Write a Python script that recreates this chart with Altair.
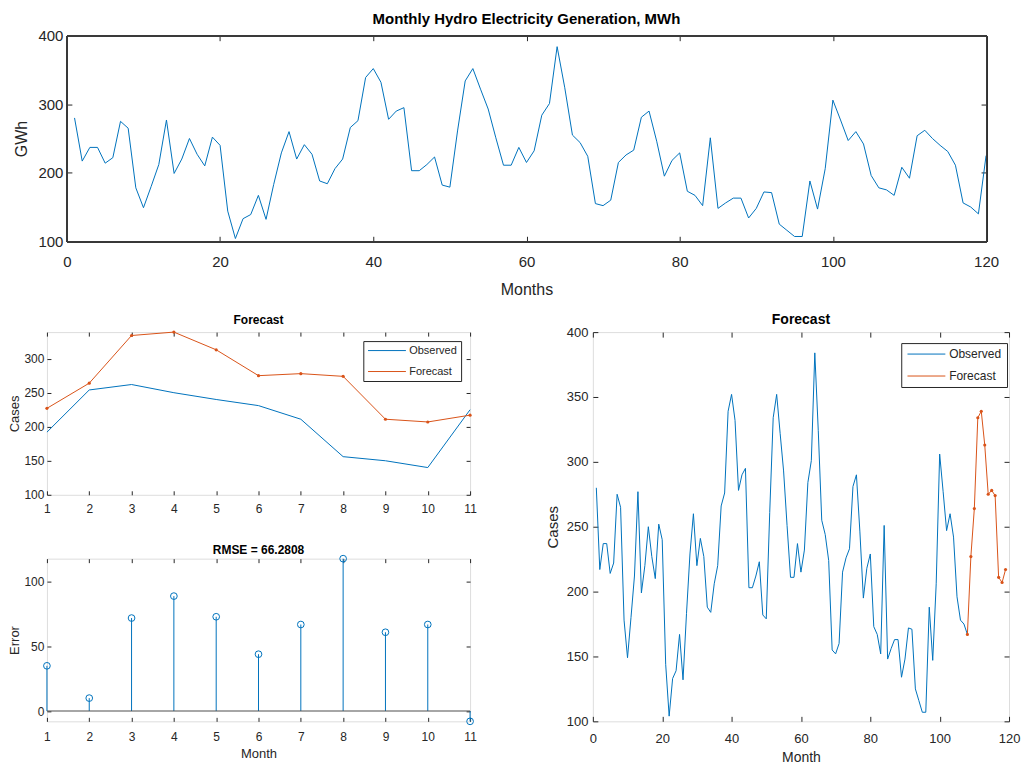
import altair as alt
import pandas as pd

# ---------------- data ----------------
hydro = [280, 217, 237, 237, 214, 222, 275, 265, 178, 149,
         180, 212, 277, 199, 220, 250, 227, 210, 252, 240,
         144, 104, 133, 139, 167, 132, 183, 229, 260, 220,
         241, 227, 188, 184, 206, 220, 266, 276, 339, 352,
         332, 278, 290, 295, 203, 203, 212, 223, 182, 179,
         261, 334, 352, 322, 293, 251, 211, 211, 237, 215,
         232, 284, 301, 384, 324, 255, 244, 224, 155, 152,
         160, 215, 226, 233, 281, 290, 246, 195, 218, 229,
         173, 167, 152, 251, 148, 156, 163, 163, 134, 148,
         172, 171, 125, 116, 107, 107, 188, 147, 206, 306,
         277, 247, 260, 242, 196, 178, 175, 167, 208, 192,
         254, 262, 250, 240, 231, 211, 156, 150, 140, 225]
months = list(range(1, 121))

test_months = list(range(1, 12))
test_observed = hydro[109:120]
forecast = [227, 264, 334, 339, 313, 275, 278, 274, 211, 207, 217]
errors = [f - o for f, o in zip(forecast, test_observed)]

train_months = list(range(1, 109))
train_observed = hydro[:108]
fc_months = list(range(108, 120))
fc_values = [hydro[107]] + forecast

series_names = ["Observed", "Forecast"]

FONT = "Liberation Sans"
INK = "#262626"
BLUE = "#0072BD"
ORANGE = "#D95319"
COLOR_SCALE = alt.Scale(domain=series_names, range=[BLUE, ORANGE])
LEG_PATH = "M-1,0H7"


def ax(orient, values, title=None, lfs=12, tfs=13, tick=5, labels=True,
       lpad=3, tpad=4, shift=0):
    return alt.Axis(orient=orient, values=values, domain=False, grid=False,
                    ticks=True, tickSize=tick, offset=-(tick + shift),
                    tickColor=INK, tickWidth=1, labels=labels, labelFont=FONT,
                    labelFontSize=lfs, labelColor=INK, labelPadding=lpad,
                    labelFlush=False, labelOverlap=False, minExtent=0,
                    titleFont=FONT, titleFontSize=tfs, titleColor=INK,
                    titleFontWeight="normal", titlePadding=tpad, title=title)


def mirror(df, xf, yf, xs, ys, xv, yv, tick=5):
    return alt.Chart(df).mark_point(opacity=0).encode(
        x=alt.X(xf, type="quantitative", scale=xs,
                axis=ax("top", xv, labels=False, tick=tick, lpad=0)),
        y=alt.Y(yf, type="quantitative", scale=ys,
                axis=ax("right", yv, labels=False, tick=tick, lpad=0)),
    )


def legend(lx, ly, fs, pad, rowpad):
    return alt.Legend(orient="none", legendX=lx, legendY=ly, title=None,
                      fillColor="white", strokeColor=INK, padding=pad,
                      cornerRadius=0, labelFont=FONT, labelFontSize=fs,
                      labelColor=INK, symbolType=LEG_PATH, symbolSize=90,
                      symbolStrokeWidth=1, labelOffset=31, rowPadding=rowpad)


# ---------------- top panel ----------------
TOP_SHIFT = 20          # plot area of the top panel starts 20px right of the lower-left one
TOP_W = 941
top_df = pd.DataFrame({"Month": months, "GWh": hydro})
xs_top = alt.Scale(domain=[0, 120], nice=False, zero=False,
                   range=[TOP_SHIFT, TOP_W])
ys_top = alt.Scale(domain=[100, 400], nice=False, zero=False)
xv_top = [0, 20, 40, 60, 80, 100, 120]
yv_top = [100, 200, 300, 400]

top_line = alt.Chart(top_df).mark_line(color=BLUE, strokeWidth=1).encode(
    x=alt.X("Month:Q", scale=xs_top,
            axis=ax("bottom", xv_top, "Months", 15, 16, lpad=13, tpad=12)),
    y=alt.Y("GWh:Q", scale=ys_top,
            axis=ax("left", yv_top, "GWh", 15, 16, lpad=4, tpad=8,
                    shift=TOP_SHIFT)),
)
top_box = alt.Chart(top_df).mark_rect(fillOpacity=0, stroke="#3a3a3a",
                                      strokeWidth=1, xOffset=0.5,
                                      x2Offset=0.5, yOffset=0.5,
                                      y2Offset=0.5).encode(
    x=alt.XDatum(xv_top[0], scale=xs_top, axis=None),
    x2=alt.X2Datum(xv_top[-1]),
    y=alt.YDatum(yv_top[0], scale=ys_top, axis=None),
    y2=alt.Y2Datum(yv_top[-1]))
top = alt.layer(top_line, mirror(top_df, "Month", "GWh", xs_top, ys_top,
                                 xv_top, yv_top), top_box).resolve_axis(
    x="independent", y="independent").properties(
    width=TOP_W, height=206,
    view=alt.ViewBackground(stroke="transparent"),
    title=alt.Title("Monthly Hydro Electricity Generation, MWh", font=FONT,
                    fontSize=15, fontWeight="bold", color="#000000",
                    anchor="middle", frame="group", offset=2,
                    dx=TOP_SHIFT / 2))

# ---------------- bottom-left: test forecast ----------------
bl_df = pd.DataFrame({
    "Month": test_months * 2,
    "Cases": test_observed + forecast,
    "Series": ["Observed"] * 11 + ["Forecast"] * 11,
})
bl_fc = pd.DataFrame({"Month": test_months, "Cases": forecast})
xs_bl = alt.Scale(domain=[1, 11], nice=False, zero=False)
ys_bl = alt.Scale(domain=[100, max(forecast)], nice=False, zero=False)
xv_bl = test_months
yv_bl = [100, 150, 200, 250, 300]

bl_lines = alt.Chart(bl_df).mark_line(strokeWidth=1).encode(
    x=alt.X("Month:Q", scale=xs_bl,
            axis=ax("bottom", xv_bl, None, 12, 12, lpad=9, tick=4)),
    y=alt.Y("Cases:Q", scale=ys_bl,
            axis=ax("left", yv_bl, "Cases", 12, 13, lpad=3, tpad=2, tick=4)),
    color=alt.Color("Series:N", scale=COLOR_SCALE, sort=series_names,
                    legend=legend(317, 9, 11, 4, 9)),
)
bl_pts = alt.Chart(bl_fc).mark_point(filled=True, size=10, color=ORANGE,
                                     opacity=1).encode(
    x=alt.X("Month:Q", scale=xs_bl, axis=None),
    y=alt.Y("Cases:Q", scale=ys_bl, axis=None))
bl1 = alt.layer(bl_lines, bl_pts, mirror(bl_fc, "Month", "Cases", xs_bl, ys_bl,
                                         xv_bl, yv_bl, 4)).resolve_axis(
    x="independent", y="independent").properties(
    width=424, height=163,
    title=alt.Title("Forecast", font=FONT, fontSize=12, fontWeight="bold",
                    color="#000000", anchor="middle", frame="group", offset=2))

# ---------------- bottom-left: error stems ----------------
err_df = pd.DataFrame({"Month": test_months, "Error": errors})
zero_df = pd.DataFrame({"Zero": [0]})
xs_e = alt.Scale(domain=[1, 11], nice=False, zero=False)
ys_e = alt.Scale(domain=[min(errors), max(errors)], nice=False, zero=False)
yv_e = [0, 50, 100]

stems = alt.Chart(err_df).mark_rule(color=BLUE, strokeWidth=1).encode(
    x=alt.X("Month:Q", scale=xs_e,
            axis=ax("bottom", xv_bl, "Month", 12, 13, lpad=10, tpad=5, tick=4)),
    y=alt.Y("Error:Q", scale=ys_e,
            axis=ax("left", yv_e, "Error", 12, 13, lpad=3, tpad=2, tick=4)),
    y2=alt.datum(0),
)
zero_line = alt.Chart(zero_df).mark_rule(color="#4d4d4d", strokeWidth=1).encode(
    y=alt.Y("Zero:Q", scale=ys_e, axis=None))
heads = alt.Chart(err_df).mark_point(shape="circle", filled=False, size=45,
                                     color=BLUE, strokeWidth=1,
                                     opacity=1).encode(
    x=alt.X("Month:Q", scale=xs_e, axis=None),
    y=alt.Y("Error:Q", scale=ys_e, axis=None))
bl2 = alt.layer(stems, zero_line, heads,
                mirror(err_df, "Month", "Error", xs_e, ys_e, xv_bl, yv_e, 4)
                ).resolve_axis(x="independent", y="independent").properties(
    width=424, height=163,
    title=alt.Title("RMSE = 66.2808", font=FONT, fontSize=12,
                    fontWeight="bold", color="#000000", anchor="middle",
                    frame="group", offset=-4))

# ---------------- bottom-right: full series + forecast ----------------
br_df = pd.DataFrame({
    "Month": train_months + fc_months,
    "Cases": train_observed + fc_values,
    "Series": ["Observed"] * len(train_months) + ["Forecast"] * len(fc_months),
})
br_fc = pd.DataFrame({"Month": fc_months, "Cases": fc_values})
xs_br = alt.Scale(domain=[0, 120], nice=False, zero=False)
ys_br = alt.Scale(domain=[100, 400], nice=False, zero=False)
xv_br = [0, 20, 40, 60, 80, 100, 120]
yv_br = [100, 150, 200, 250, 300, 350, 400]

br_lines = alt.Chart(br_df).mark_line(strokeWidth=1).encode(
    x=alt.X("Month:Q", scale=xs_br,
            axis=ax("bottom", xv_br, "Month", 13, 14, lpad=11, tpad=5)),
    y=alt.Y("Cases:Q", scale=ys_br,
            axis=ax("left", yv_br, "Cases", 13, 15, lpad=5, tpad=6)),
    color=alt.Color("Series:N", scale=COLOR_SCALE, sort=series_names,
                    legend=legend(309, 11, 12, 5, 10)),
)
br_pts = alt.Chart(br_fc).mark_point(filled=True, size=10, color=ORANGE,
                                     opacity=1).encode(
    x=alt.X("Month:Q", scale=xs_br, axis=None),
    y=alt.Y("Cases:Q", scale=ys_br, axis=None))
br = alt.layer(br_lines, br_pts, mirror(br_fc, "Month", "Cases", xs_br, ys_br,
                                        xv_br, yv_br)).resolve_axis(
    x="independent", y="independent").properties(
    width=417, height=390,
    title=alt.Title("Forecast", font=FONT, fontSize=14, fontWeight="bold",
                    color="#000000", anchor="middle", frame="group", offset=-1))

left_col = alt.vconcat(bl1, bl2, spacing=28).resolve_scale(color="independent")
bottom = alt.hconcat(left_col, br, spacing=67).resolve_scale(color="independent")

chart = alt.vconcat(top, bottom, spacing=14).resolve_scale(
    color="independent").properties(
    padding={"left": 0, "top": 2, "right": 0, "bottom": 0}
).configure_view(stroke=INK, strokeWidth=1).configure(background="white")

chart.save("out.html", embed_options={"renderer": "svg", "actions": False})
